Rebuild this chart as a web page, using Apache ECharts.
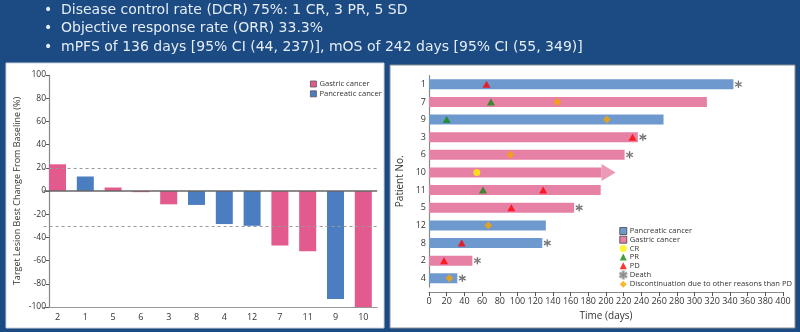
<!DOCTYPE html>
<html><head><meta charset="utf-8">
<script src="https://cdn.jsdelivr.net/npm/echarts@6/dist/echarts.min.js"></script>
<style>html,body{margin:0;padding:0;background:#1b4b82}#c{width:800px;height:332px}</style>
</head><body><div id="c"></div>
<script>
// ---- top text ----
const topLines = [
  'Disease control rate (DCR) 75%: 1 CR, 3 PR, 5 SD',
  'Objective response rate (ORR) 33.3%',
  'mPFS of 136 days [95% CI (44, 237)], mOS of 242 days [95% CI (55, 349)]'
];
// ---- waterfall (left) ----
const wfCategories = ['2','1','5','6','3','8','4','12','7','11','9','10'];
const wfChange = [23, 12.5, 3, -1, -11.5, -12, -28.5, -30, -47, -52, -93, -100];
const wfType = ['G','P','G','G','G','P','P','P','G','G','P','G'];
const wfRefLines = [20, -30];
// ---- swimmer (right) ----
const swimPatients = ['1','7','9','3','6','10','11','5','12','8','2','4'];
const swimDays = [344, 314, 265, 236, 221, 195, 194, 164, 132, 128, 49, 32];
const swimType = ['P','G','P','G','G','G','G','G','P','P','G','P'];
const ongoing = [[195,'10']];
const crEvents = [[54,'10']];
const prEvents = [[70,'7'],[20,'9'],[61,'11']];
const pdEvents = [[65,'1'],[230,'3'],[129,'11'],[93,'5'],[37,'8'],[17,'2']];
const deathEvents = [[344,'1'],[236,'3'],[221,'6'],[164,'5'],[128,'8'],[49,'2'],[32,'4']];
const discEvents = [[145,'7'],[201,'9'],[92,'6'],[67,'12'],[23,'4']];

const F = 'Open Sans';
const C = {lp:'#e35b8e', lb:'#4b7dc1', rp:'#e680a5', rb:'#6e99cf'};
const asterisk = 'path://M4.3,0 L5.7,0 L5.7,10 L4.3,10 Z M0.32,3.11 L1.02,1.89 L9.68,6.89 L8.98,8.11 Z M0.32,6.89 L8.98,1.89 L9.68,3.11 L1.02,8.11 Z';
const arrow = 'path://M0,0 L10,5 L0,10 Z';

const chart = echarts.init(document.getElementById('c'), null, {renderer:'canvas'});

const graphic = [
  {type:'rect', shape:{x:6,y:63,width:378,height:265}, style:{fill:'#fff', stroke:'#c9d3df', lineWidth:1}, z:-10},
  {type:'rect', shape:{x:390,y:65,width:405,height:263}, style:{fill:'#fff', stroke:'#8a8f96', lineWidth:1}, z:-10}
];
topLines.forEach((t,i)=>{
  graphic.push({type:'text', left:44, top:3+i*18.7, style:{text:'•', fill:'#e6edf5', font:'14px "DejaVu Sans"'}});
  graphic.push({type:'text', left:61, top:3+i*18.7, style:{text:t, fill:'#e6edf5', font:'14px "DejaVu Sans"'}});
});

const sel = (vals, types, k) => vals.map((v,i)=> types[i]===k ? v : '-');

const option = {
  animation:false,
  backgroundColor:'#1b4b82',
  textStyle:{fontFamily:F},
  graphic: graphic,
  grid:[
    {left:43.6, top:75, width:333.6, height:232, containLabel:false},
    {left:429, top:75.5, width:354, height:211.6, containLabel:false}
  ],
  legend:[
    {orient:'vertical', left:305, top:75, itemWidth:6, itemHeight:6, itemGap:1.8,
     textStyle:{fontSize:7.6, color:'#333', fontFamily:F, padding:[0,0,0,-2]},
     data:[{name:'Gastric cancer', icon:'rect', itemStyle:{borderColor:'#555',borderWidth:0.8}},
           {name:'Pancreatic cancer', icon:'rect', itemStyle:{borderColor:'#555',borderWidth:0.8}}]},
    {orient:'vertical', left:614, top:222, itemWidth:7, itemHeight:7, itemGap:0.7,
     textStyle:{fontSize:7.6, color:'#333', fontFamily:F, padding:[0,0,0,-2]},
     data:[{name:'Pancreatic cancer ', icon:'rect', itemStyle:{borderColor:'#444',borderWidth:0.8}},
           {name:'Gastric cancer ', icon:'rect', itemStyle:{borderColor:'#444',borderWidth:0.8}},
           'CR','PR','PD','Death','Discontinuation due to other reasons than PD']}
  ],
  xAxis:[
    {gridIndex:0, type:'category', data:wfCategories,
     axisLine:{onZero:false, lineStyle:{color:'#999', width:1.2}},
     axisTick:{alignWithLabel:true, length:4, lineStyle:{color:'#555'}},
     axisLabel:{fontSize:9, color:'#333', margin:6}},
    {gridIndex:1, type:'value', min:0, max:400, interval:20, offset:5,
     name:'Time (days)', nameLocation:'middle', nameGap:19, nameTextStyle:{fontSize:10, color:'#333'},
     axisLine:{show:true, lineStyle:{color:'#888', width:1.2}},
     axisTick:{show:true, length:4, lineStyle:{color:'#555'}},
     splitLine:{show:false},
     axisLabel:{fontSize:9, color:'#333', margin:5}}
  ],
  yAxis:[
    {gridIndex:0, type:'value', min:-100, max:100, interval:20, offset:-5.4,
     name:'Target Lesion Best Change From Baseline (%)', nameLocation:'middle', nameGap:27,
     nameTextStyle:{fontSize:9, color:'#333'},
     axisLine:{show:true, lineStyle:{color:'#888', width:1.2}},
     axisTick:{show:true, length:3, lineStyle:{color:'#555'}},
     splitLine:{show:false},
     axisLabel:{fontSize:8.5, color:'#333', margin:3}},
    {gridIndex:1, type:'category', data:swimPatients, inverse:true,
     name:'Patient No.', nameLocation:'middle', nameGap:24, nameTextStyle:{fontSize:10, color:'#333'},
     axisLine:{show:true, lineStyle:{color:'#888', width:1.2}},
     axisTick:{alignWithLabel:true, length:4, lineStyle:{color:'#555'}},
     axisLabel:{fontSize:9, color:'#333', margin:3}}
  ],
  series:[
    {name:'Gastric cancer', type:'bar', xAxisIndex:0, yAxisIndex:0, barWidth:17, barGap:'-100%',
     itemStyle:{color:C.lp}, data:sel(wfChange, wfType, 'G'),
     markLine:{silent:true, symbol:'none', label:{show:false},
       data:[{yAxis:wfRefLines[0], lineStyle:{type:[3,3], color:'#999', width:1}},
             {yAxis:wfRefLines[1], lineStyle:{type:[3,3], color:'#999', width:1}},
             {yAxis:0, lineStyle:{type:'solid', color:'#666', width:1.5}}]}},
    {name:'Pancreatic cancer', type:'bar', xAxisIndex:0, yAxisIndex:0, barWidth:17, barGap:'-100%',
     itemStyle:{color:C.lb}, data:sel(wfChange, wfType, 'P')},
    {name:'Pancreatic cancer ', type:'bar', xAxisIndex:1, yAxisIndex:1, barWidth:10, barGap:'-100%',
     itemStyle:{color:C.rb}, data:sel(swimDays, swimType, 'P')},
    {name:'Gastric cancer ', type:'bar', xAxisIndex:1, yAxisIndex:1, barWidth:10, barGap:'-100%',
     itemStyle:{color:C.rp}, data:sel(swimDays, swimType, 'G')},
    {name:'ongoing', type:'scatter', xAxisIndex:1, yAxisIndex:1, symbol:arrow, symbolSize:[14,17],
     symbolOffset:[7,0], itemStyle:{color:C.rp}, data:ongoing, z:1},
    {name:'CR', type:'scatter', xAxisIndex:1, yAxisIndex:1, symbol:'circle', symbolSize:7,
     itemStyle:{color:'#fff200'}, data:crEvents, z:5},
    {name:'PR', type:'scatter', xAxisIndex:1, yAxisIndex:1, symbol:'triangle', symbolSize:[8,7],
     itemStyle:{color:'#128a12'}, data:prEvents, z:5},
    {name:'PD', type:'scatter', xAxisIndex:1, yAxisIndex:1, symbol:'triangle', symbolSize:[8,7],
     itemStyle:{color:'#ff0000'}, data:pdEvents, z:5},
    {name:'Death', type:'scatter', xAxisIndex:1, yAxisIndex:1, symbol:asterisk, symbolSize:7,
     symbolOffset:[5,0], itemStyle:{color:'#222', borderColor:'#999', borderWidth:0.4}, data:deathEvents, z:5},
    {name:'Discontinuation due to other reasons than PD', type:'scatter', xAxisIndex:1, yAxisIndex:1,
     symbol:'diamond', symbolSize:8, itemStyle:{color:'#f7a400'}, data:discEvents, z:5}
  ]
};
chart.setOption(option);
</script>
</body></html>
